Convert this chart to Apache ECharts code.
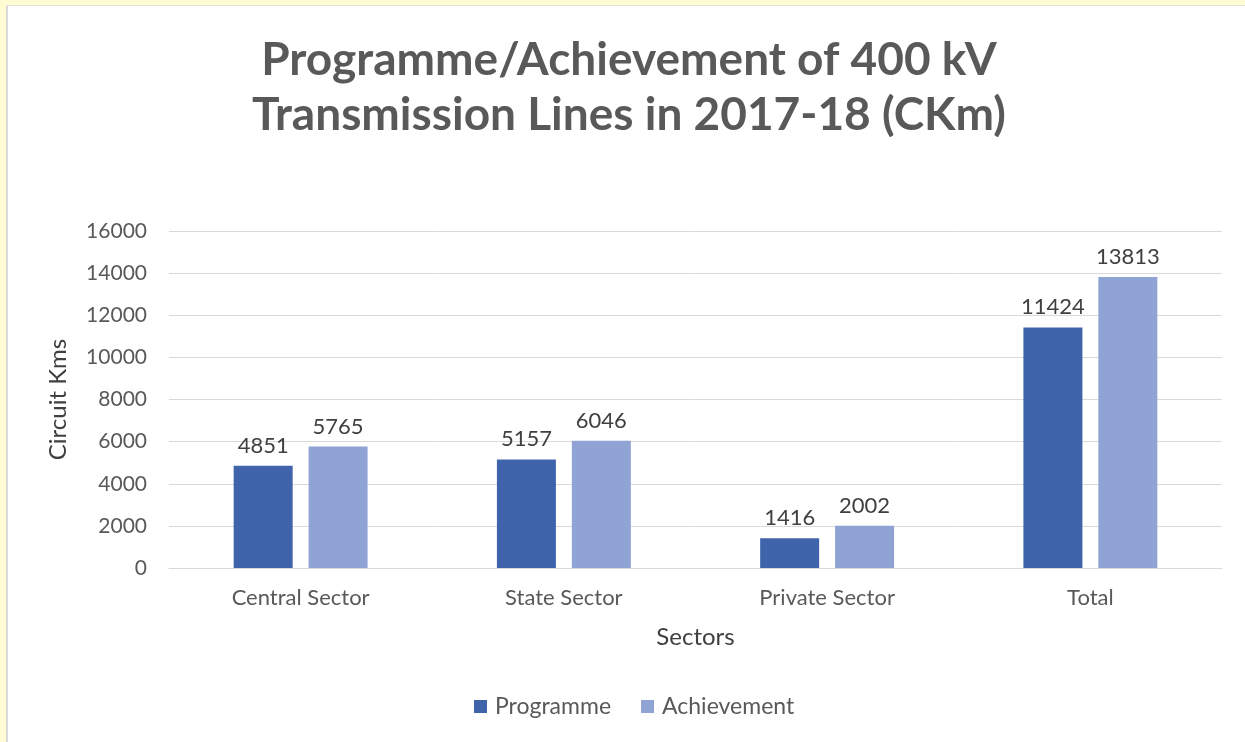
<!DOCTYPE html>
<html>
<head>
<meta charset="utf-8">
<script src="https://cdn.jsdelivr.net/npm/echarts@6/dist/echarts.min.js"></script>
<style>
html,body{margin:0;padding:0;background:#fff;}
#chart{width:1245px;height:742px;}
</style>
</head>
<body>
<div id="chart"></div>
<script>
const categories = ['Central Sector', 'State Sector', 'Private Sector', 'Total'];
const programme = [4851, 5157, 1416, 11424];
const achievement = [5765, 6046, 2002, 13813];
const yTicks = [0, 2000, 4000, 6000, 8000, 10000, 12000, 14000, 16000];

const FONT = 'Lato';
const chart = echarts.init(document.getElementById('chart'));
chart.setOption({
  animation: false,
  backgroundColor: '#ffffff',
  textStyle: { fontFamily: FONT },
  graphic: [
    { type: 'rect', shape: { x: 0, y: 0, width: 1245, height: 5 }, style: { fill: '#FFFBD3' }, silent: true },
    { type: 'rect', shape: { x: 0, y: 0, width: 6, height: 742 }, style: { fill: '#FFFBD3' }, silent: true },
    { type: 'rect', shape: { x: 6, y: 5, width: 2, height: 737 }, style: { fill: '#DADADA' }, silent: true },
    { type: 'rect', shape: { x: 6, y: 5, width: 1239, height: 1 }, style: { fill: '#E2E2E2' }, silent: true }
  ],
  title: {
    text: 'Programme/Achievement of 400 kV\nTransmission Lines in 2017-18 (CKm)',
    left: 624,
    top: 28,
    textAlign: 'center',
    textStyle: { fontFamily: FONT, fontSize: 46, fontWeight: 'bold', color: '#595959', lineHeight: 55 }
  },
  legend: {
    data: ['Programme', 'Achievement'],
    bottom: 19,
    left: 469,
    itemWidth: 13,
    itemHeight: 13,
    itemGap: 30,
    icon: 'rect',
    textStyle: { fontFamily: FONT, fontSize: 23, color: '#595959', padding: [0, 0, 0, 3] }
  },
  grid: { left: 169, right: 23, top: 231, bottom: 174, containLabel: false },
  xAxis: {
    type: 'category',
    data: categories,
    name: 'Sectors',
    nameLocation: 'middle',
    nameGap: 57,
    nameTextStyle: { fontFamily: FONT, fontSize: 24, color: '#404040' },
    axisLine: { lineStyle: { color: '#D9D9D9', width: 1 } },
    axisTick: { show: false },
    axisLabel: { fontFamily: FONT, fontSize: 22, color: '#595959', margin: 19 }
  },
  yAxis: {
    type: 'value',
    min: 0,
    max: 16000,
    interval: 2000,
    name: 'Circuit Kms',
    nameLocation: 'middle',
    nameGap: 99,
    nameRotate: 90,
    nameTextStyle: { fontFamily: FONT, fontSize: 24, color: '#404040' },
    axisLine: { show: false },
    axisTick: { show: false },
    splitLine: { lineStyle: { color: '#D9D9D9', width: 1 } },
    axisLabel: {
      fontFamily: FONT, fontSize: 21, color: '#595959', margin: 22,
      formatter: function (v) { return yTicks.indexOf(v) >= 0 ? String(v) : ''; }
    }
  },
  series: [
    {
      name: 'Programme',
      type: 'bar',
      data: programme,
      barWidth: 59,
      barGap: '27%',
      itemStyle: { color: '#3F64AC' },
      label: { show: true, position: 'top', distance: 9, fontFamily: FONT, fontSize: 22, color: '#404040' }
    },
    {
      name: 'Achievement',
      type: 'bar',
      data: achievement,
      barWidth: 59,
      itemStyle: { color: '#8FA4D4' },
      label: { show: true, position: 'top', distance: 9, fontFamily: FONT, fontSize: 22, color: '#404040' }
    }
  ]
});
</script>
</body>
</html>
